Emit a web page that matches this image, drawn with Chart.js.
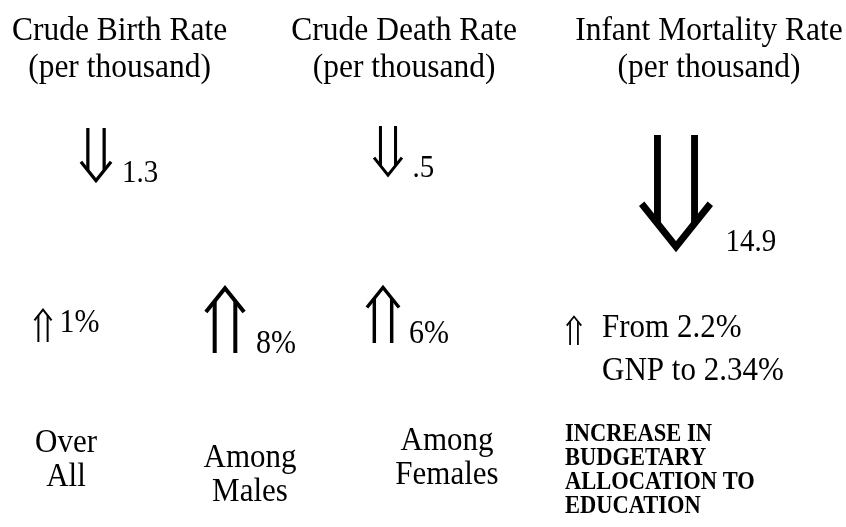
<!DOCTYPE html>
<html>
<head>
<meta charset="utf-8">
<script src="https://cdn.jsdelivr.net/npm/chart.js@4.4.1/dist/chart.umd.min.js"></script>
<style>
  html, body { margin: 0; padding: 0; background: #fff; }
  #wrap { width: 846px; height: 527px; }
</style>
</head>
<body>
<div id="wrap"><canvas id="chart" width="846" height="527"></canvas></div>
<script>
// values
const rateNames = ['Crude Birth Rate', 'Crude Death Rate', 'Infant Mortality Rate'];
const rateUnit = '(per thousand)';
const rateDecline = [1.3, 0.5, 14.9];
const rateLabels = ['1.3', '.5', '14.9'];

const literacyGroups = [['Over', 'All'], ['Among', 'Males'], ['Among', 'Females']];
const literacyRise = [1, 8, 6];
const literacyLabels = ['1%', '8%', '6%'];

const budgetShare = [2.2, 2.34]; // % of GNP, from -> to
const budgetLabels = ['From 2.2%', 'GNP to 2.34%'];
const budgetTitle = ['INCREASE IN', 'BUDGETARY', 'ALLOCATION TO', 'EDUCATION'];

const riseValues = literacyRise.concat([budgetShare[1] - budgetShare[0]]);

// layout (pixels)
const topArrowX = [96, 388, 676];
const topTail = [128, 126, 135];
const titleBase = [40, 77];
const bottomArrowX = [43, 225, 383, 574];
const bottomTail = [342, 353, 343, 345];
const upLabelBase = [332, 353, 343, 337];
const upLabelGap = [8, 12, 10, 19];
const groupCenterX = [66, 250, 447];
const groupBase = [452, 467, 450];

const SERIF = "'Liberation Serif', 'Times New Roman', serif";
const STRETCH = 1.1; // glyphs in the figure are a bit taller than the font

function drawArrow(ctx, cx, tail, tip, w) {
  const len = Math.abs(tip - tail);
  const dir = tip > tail ? 1 : -1;
  const s = Math.max(1.4, len / 17);
  const hw = w / 2, d = w * 0.27, ah = hw * 1.25;
  const t = tip - dir * s * 0.8;
  ctx.save();
  ctx.strokeStyle = '#000';
  ctx.lineWidth = s;
  ctx.lineCap = 'butt';
  ctx.lineJoin = 'miter';
  ctx.beginPath();
  ctx.moveTo(cx - d, tail); ctx.lineTo(cx - d, t - dir * 1.25 * d);
  ctx.moveTo(cx + d, tail); ctx.lineTo(cx + d, t - dir * 1.25 * d);
  ctx.stroke();
  ctx.beginPath();
  ctx.moveTo(cx - hw, t - dir * ah);
  ctx.lineTo(cx, t);
  ctx.lineTo(cx + hw, t - dir * ah);
  ctx.stroke();
  ctx.restore();
}

function text(ctx, str, x, y, size, align, bold) {
  ctx.save();
  ctx.font = (bold ? 'bold ' : '') + size + 'px ' + SERIF;
  ctx.textAlign = align;
  ctx.textBaseline = 'alphabetic';
  ctx.fillStyle = '#000';
  ctx.translate(x, y);
  ctx.scale(1, STRETCH);
  ctx.fillText(str, 0, 0);
  const w = ctx.measureText(str).width;
  ctx.restore();
  return w;
}

const infographic = {
  id: 'infographic',
  afterDatasetsDraw(chart) {
    const ctx = chart.ctx;
    const down = chart.scales.down, up = chart.scales.up;
    const dn = chart.getDatasetMeta(0).data;
    const rs = chart.getDatasetMeta(1).data;

    // falling rates
    dn.forEach((el, i) => {
      const len = el.y - down.getPixelForValue(down.min);
      const w = len * 0.62 - 4;
      const tip = topTail[i] + len;
      drawArrow(ctx, el.x, topTail[i], tip, w);
      const lx = el.x + w / 2 + 7 + len * 0.07;
      const tw = text(ctx, rateLabels[i], lx, tip - 1, 29, 'left');
      const mid = ((el.x - w / 2) + (lx + tw)) / 2;
      text(ctx, rateNames[i], mid, titleBase[0], 31.5, 'center');
      text(ctx, rateUnit, mid, titleBase[1], 31.5, 'center');
    });

    // rising literacy and budget share
    rs.forEach((el, i) => {
      const len = up.getPixelForValue(up.min) - el.y;
      const w = len * 0.62 - 4;
      drawArrow(ctx, el.x, bottomTail[i], bottomTail[i] - len, w);
      const lx = el.x + w / 2 + upLabelGap[i];
      if (i < literacyLabels.length) {
        text(ctx, literacyLabels[i], lx, upLabelBase[i], 30, 'left');
        literacyGroups[i].forEach((ln, k) => text(ctx, ln, groupCenterX[i], groupBase[i] + k * 34, 31, 'center'));
      } else {
        budgetLabels.forEach((ln, k) => text(ctx, ln, 602, upLabelBase[i] + k * 43, 31, 'left'));
        budgetTitle.forEach((ln, k) => text(ctx, ln, 565, 441 + k * 24, 22.5, 'left', true));
      }
    });
  }
};

new Chart(document.getElementById('chart'), {
  type: 'scatter',
  data: {
    datasets: [
      { label: 'Decline (per thousand)', data: rateDecline.map((v, i) => ({ x: topArrowX[i], y: v })), yAxisID: 'down', pointRadius: 0 },
      { label: 'Increase (%)', data: riseValues.map((v, i) => ({ x: bottomArrowX[i], y: v })), yAxisID: 'up', pointRadius: 0 }
    ]
  },
  options: {
    responsive: false,
    animation: false,
    devicePixelRatio: 1,
    events: [],
    layout: { padding: 0 },
    plugins: { legend: { display: false }, tooltip: { enabled: false }, title: { display: false } },
    scales: {
      x: { type: 'linear', min: 0, max: 846, display: false },
      y: { type: 'linear', display: false },
      // length of the arrows: pixels per unit of change
      down: { type: 'linear', axis: 'y', reverse: true, min: -10.8, max: 104.8, display: false },
      up: { type: 'linear', axis: 'y', min: -6, max: 102.4, display: false }
    }
  },
  plugins: [infographic]
});
</script>
</body>
</html>
